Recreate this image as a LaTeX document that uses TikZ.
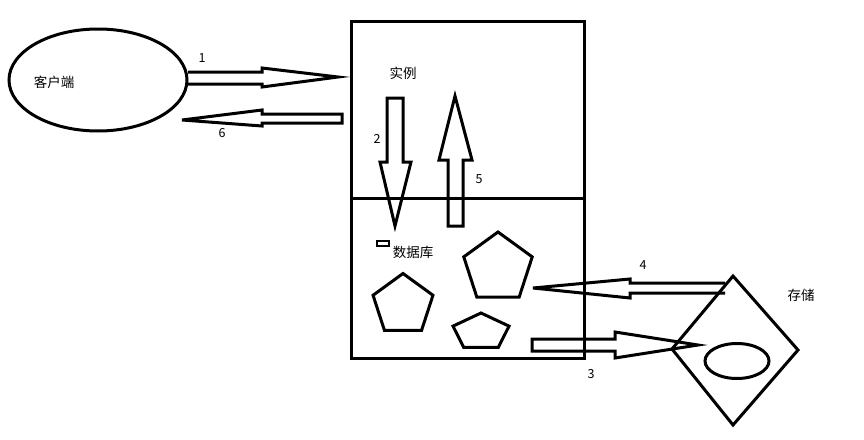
\documentclass[tikz,border=0pt]{standalone}
\usepackage{fontspec}
\setmainfont{Noto Sans CJK SC}
\usetikzlibrary{shapes.geometric}
\begin{document}
\begin{tikzpicture}[x=1pt,y=-1pt,
  ln/.style={line width=3pt,line join=miter},
  lbl/.style={font=\fontsize{13.5}{15}\selectfont,inner sep=0pt},
  num/.style={font=\fontsize{12.5}{14}\selectfont,inner sep=0pt},
  pent/.style={ln,regular polygon,regular polygon sides=5,draw,inner sep=0pt}]
\useasboundingbox (0,0) rectangle (864,439);
% client
\node[ln,draw,ellipse,minimum width=178pt,minimum height=102pt,inner sep=0pt] (client) at (98,80) {};
\node[lbl] (clienttxt) at (54,82) {客户端};
% instance / db box
\draw[ln] (351,21) rectangle (584,358);
\draw[ln] (351,198) -- (584,198);
\node[lbl] (inst) at (403,73) {实例};
\node[lbl] (db) at (413,252) {数据库};
\draw[line width=2.2pt] (377,241) rectangle (389,246);
% pentagons
\node[pent,minimum size=72pt] (p1) at (498,268) {};
\node[pent,minimum size=63pt] (p2) at (403,305) {};
\node[pent,minimum size=38pt,xscale=1.55] (p3) at (481,332) {};
% storage
\draw[ln] (733,276) -- (798,350) -- (733,425) -- (672,349) -- cycle;
\node[ln,draw,ellipse,minimum width=64pt,minimum height=35pt,inner sep=0pt] (store) at (737,361) {};
\node[lbl] (storetxt) at (801,295) {存储};
% arrow 1
\draw[ln] (188,72) -- (262,72) -- (262,68) -- (338,77) -- (262,87) -- (262,84) -- (188,84);
\node[num] (l1) at (202,58) {1};
% arrow 6
\draw[ln] (342,114) -- (262,114) -- (262,110) -- (182,120) -- (262,126) -- (262,123) -- (342,123) -- cycle;
\node[num] (l6) at (222,133) {6};
% arrow 2
\draw[ln] (387,98) -- (403,98) -- (403,162) -- (411,162) -- (395,226) -- (380,162) -- (387,162) -- cycle;
\node[num] (l2) at (377,139) {2};
% arrow 5
\draw[ln] (448,226) -- (463,226) -- (463,160) -- (472,160) -- (455,96) -- (439,160) -- (448,160) -- cycle;
\node[num] (l5) at (479,179) {5};
% arrow 4
\draw[ln] (725,283) -- (630,283) -- (630,279) -- (533,288) -- (630,298) -- (630,293) -- (725,293);
\node[num] (l4) at (643,265) {4};
% arrow 3
\draw[ln] (532,339) -- (615,339) -- (615,332) -- (698,345) -- (615,358) -- (615,351) -- (532,351) -- cycle;
\node[num] (l3) at (591,374) {3};
\end{tikzpicture}
\end{document}
